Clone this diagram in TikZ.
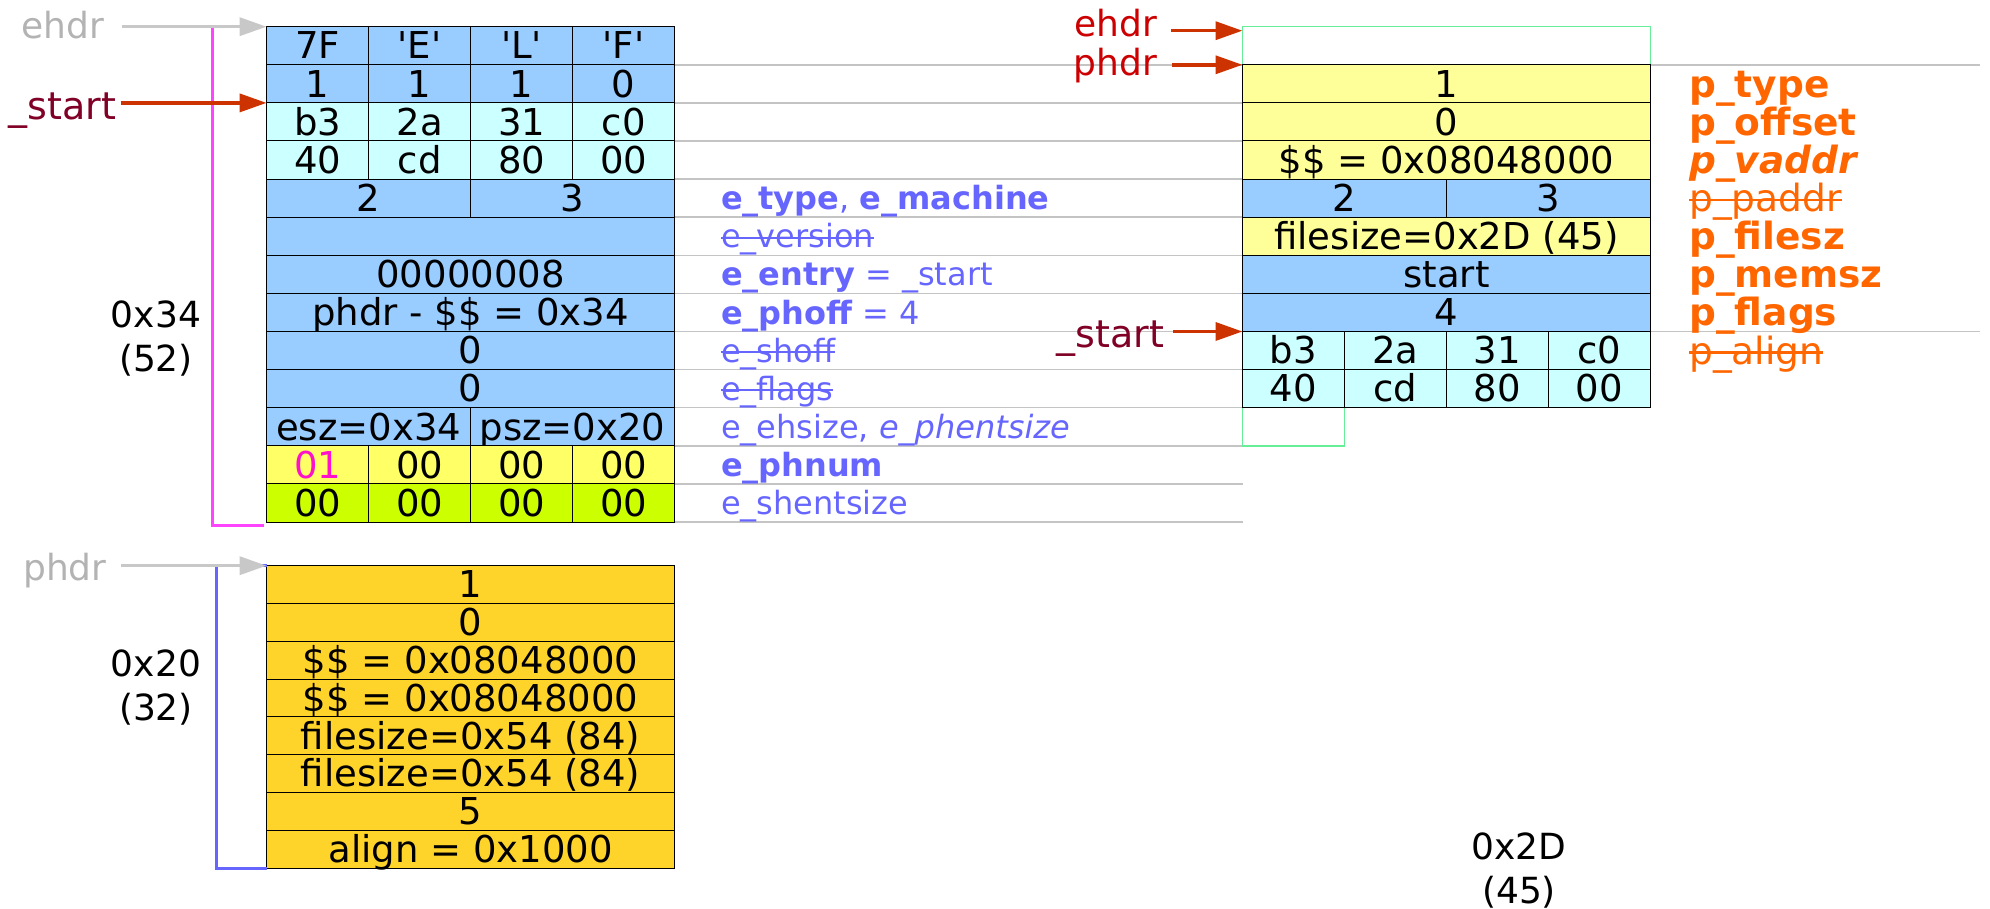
\documentclass[tikz,border=0pt]{standalone}
\usepackage{fontspec}
\setmainfont{DejaVu Sans}
\usetikzlibrary{arrows.meta,backgrounds,positioning}

\definecolor{hdrblue}{HTML}{99CCFF}
\definecolor{codecyan}{HTML}{CCFFFF}
\definecolor{phnumyel}{HTML}{FFFF66}
\definecolor{shentgrn}{HTML}{CCFF00}
\definecolor{phdryel}{HTML}{FFFF99}
\definecolor{phgold}{HTML}{FFD42A}
\definecolor{fieldblue}{HTML}{6666FF}
\definecolor{fieldorange}{HTML}{FF6600}
\definecolor{symred}{HTML}{800026}
\definecolor{ptrred}{HTML}{CC0000}
\definecolor{arrowred}{HTML}{CC3300}
\definecolor{ghost}{HTML}{B3B3B3}
\definecolor{ghostarrow}{HTML}{C8C8C8}
\definecolor{guidegray}{HTML}{C4C4C4}
\definecolor{boxgreen}{HTML}{66EE99}
\definecolor{bracketpink}{HTML}{FF44FF}
\definecolor{countpink}{HTML}{FF11CC}

\newcommand\cellfont{\fontsize{37}{42}\selectfont}
\newsavebox\strikebox
\newcommand\struck[1]{\sbox\strikebox{#1}\rlap{\usebox\strikebox}\rule[0.28em]{\wd\strikebox}{0.065em}}

\tikzset{
  cell/.style={draw=black, line width=1pt, minimum height=38.1pt, inner sep=0pt,
    outer sep=0pt, anchor=north west, font=\cellfont, text height=26.5pt, text depth=0pt},
  quarter/.style={cell, minimum width=102pt},
  half/.style={cell, minimum width=204pt},
  full/.style={cell, minimum width=408pt},
  phrow/.style={full, fill=phgold, minimum height=37.8pt},
  outline/.style={draw=boxgreen, line width=1.5pt, minimum height=38.1pt, inner sep=0pt,
    outer sep=0pt, anchor=north west},
  guide/.style={draw=guidegray, line width=1.5pt},
  ptr/.style={-{Triangle[length=27pt,width=18pt]}, line width=3.5pt, draw=arrowred},
  ghostptr/.style={ptr, draw=ghostarrow},
  ptrlabel/.style={anchor=base east, inner sep=0pt, outer sep=0pt},
  elabel/.style={anchor=west, inner sep=0pt, outer sep=0pt, text=fieldblue,
    font=\fontsize{32}{36}\selectfont, text height=23.3pt, text depth=0pt},
  plabel/.style={anchor=west, inner sep=0pt, outer sep=0pt, text=fieldorange,
    font=\fontsize{37.5}{42}\selectfont, text height=27pt, text depth=0pt},
  sizelabel/.style={align=center, inner sep=0pt, font=\fontsize{36}{44}\selectfont},
  pinkbracket/.style={draw=bracketpink, line width=3pt},
  bluebracket/.style={draw=fieldblue, line width=3pt},
}

% one row of four byte cells: name, x, y, fill, four texts
\newcommand\quadrow[8]{%
  \node[quarter, fill=#4] (#1a) at (#2,#3) {#5};
  \node[quarter, fill=#4, right=0pt of #1a] (#1b) {#6};
  \node[quarter, fill=#4, right=0pt of #1b] (#1c) {#7};
  \node[quarter, fill=#4, right=0pt of #1c] (#1d) {#8};}

\begin{document}
\begin{tikzpicture}[x=1pt, y=-1pt]
\useasboundingbox (0,0) rectangle (1990,909);
\coordinate (farR) at (1980,0);

% ---- ELF header (left) ----
\quadrow{h1}{266.6}{26.7}{hdrblue}{7F}{\textquotesingle E\textquotesingle}{\textquotesingle L\textquotesingle}{\textquotesingle F\textquotesingle}
\quadrow{h2}{266.6}{64.8}{hdrblue}{1}{1}{1}{0}
\quadrow{h3}{266.6}{102.9}{codecyan}{b3}{2a}{31}{c0}
\quadrow{h4}{266.6}{141.0}{codecyan}{40}{cd}{80}{00}
\node[half, fill=hdrblue] (h5a) at (266.6,179.1) {2};
\node[half, fill=hdrblue, right=0pt of h5a] (h5b) {3};
\node[full, fill=hdrblue] (h6) at (266.6,217.2) {};
\node[full, fill=hdrblue] (h7) at (266.6,255.3) {00000008};
\node[full, fill=hdrblue] (h8) at (266.6,293.4) {phdr - \$\$ = 0x34};
\node[full, fill=hdrblue] (h9) at (266.6,331.5) {0};
\node[full, fill=hdrblue] (h10) at (266.6,369.6) {0};
\node[half, fill=hdrblue] (h11a) at (266.6,407.7) {esz=0x34};
\node[half, fill=hdrblue, right=0pt of h11a] (h11b) {psz=0x20};
\quadrow{h12}{266.6}{445.8}{phnumyel}{\textcolor{countpink}{01}}{00}{00}{00}
\quadrow{h13}{266.6}{483.9}{shentgrn}{00}{00}{00}{00}

% ---- program header (bottom left) ----
\node[phrow] (q1) at (266.6,565.7) {1};
\node[phrow] (q2) at (266.6,603.5) {0};
\node[phrow] (q3) at (266.6,641.3) {\$\$ = 0x08048000};
\node[phrow] (q4) at (266.6,679.1) {\$\$ = 0x08048000};
\node[phrow] (q5) at (266.6,716.9) {filesize=0x54 (84)};
\node[phrow] (q6) at (266.6,754.7) {filesize=0x54 (84)};
\node[phrow] (q7) at (266.6,792.5) {5};
\node[phrow] (q8) at (266.6,830.3) {align = 0x1000};

% ---- overlapped layout (right) ----
\node[outline, minimum width=408pt] (gtop) at (1242.5,26.7) {};
\node[outline, minimum width=102pt] (gbot) at (1242.5,407.7) {};
\node[full, fill=phdryel] (p1) at (1242.5,64.8) {1};
\node[full, fill=phdryel] (p2) at (1242.5,102.9) {0};
\node[full, fill=phdryel] (p3) at (1242.5,141.0) {\$\$ = 0x08048000};
\node[half, fill=hdrblue] (p4a) at (1242.5,179.1) {2};
\node[half, fill=hdrblue, right=0pt of p4a] (p4b) {3};
\node[full, fill=phdryel] (p5) at (1242.5,217.2) {filesize=0x2D (45)};
\node[full, fill=hdrblue] (p6) at (1242.5,255.3) {start};
\node[full, fill=hdrblue] (p7) at (1242.5,293.4) {4};
\quadrow{p8}{1242.5}{331.5}{codecyan}{b3}{2a}{31}{c0}
\quadrow{p9}{1242.5}{369.6}{codecyan}{40}{cd}{80}{00}

% guide lines between the two layouts
\begin{scope}[on background layer]
  \foreach \n in {h2d,h3d,h4d,h5b,h6,h7,h9,h10,h11b,h12d,h13d}
    \draw[guide] (\n.south east) -- (\n.south east -| p1.west);
  \foreach \n in {h1d,h8}
    \draw[guide] (\n.south east) -- (\n.south east -| farR);
\end{scope}

% field names of the ELF header
\node[elabel] (eType) at ([xshift=46.4pt]h5b.east) {\textbf{e\_type}, \textbf{e\_machine}};
\node[elabel] (eVersion) at ([xshift=46.4pt]h6.east) {\struck{e\_version}};
\node[elabel] (eEntry) at ([xshift=46.4pt]h7.east) {\textbf{e\_entry} = \_start};
\node[elabel] (ePhoff) at ([xshift=46.4pt]h8.east) {\textbf{e\_phoff} = 4};
\node[elabel] (eShoff) at ([xshift=46.4pt]h9.east) {\struck{e\_shoff}};
\node[elabel] (eFlags) at ([xshift=46.4pt]h10.east) {\struck{e\_flags}};
\node[elabel] (eEhsize) at ([xshift=46.4pt]h11b.east) {e\_ehsize, \textit{e\_phentsize}};
\node[elabel] (ePhnum) at ([xshift=46.4pt]h12d.east) {\textbf{e\_phnum}};
\node[elabel] (eShent) at ([xshift=46.4pt]h13d.east) {e\_shentsize};

% field names of the program header
\node[plabel] (pType) at ([xshift=38.8pt]p1.east) {\textbf{p\_type}};
\node[plabel] (pOffset) at ([xshift=38.8pt]p2.east) {\textbf{p\_offset}};
\node[plabel] (pVaddr) at ([xshift=38.8pt]p3.east) {\textbf{\textit{p\_vaddr}}};
\node[plabel] (pPaddr) at ([xshift=38.8pt]p4b.east) {\struck{p\_paddr}};
\node[plabel] (pFilesz) at ([xshift=38.8pt]p5.east) {\textbf{p\_filesz}};
\node[plabel] (pMemsz) at ([xshift=38.8pt]p6.east) {\textbf{p\_memsz}};
\node[plabel] (pFlags) at ([xshift=38.8pt]p7.east) {\textbf{p\_flags}};
\node[plabel] (pAlign) at ([xshift=38.8pt]p8d.east) {\struck{p\_align}};

% size brackets and sizes
\draw[pinkbracket] ([shift={(-3pt,-3pt)}]h13a.south west) -| ([xshift=-54pt]h1a.north west) -- ++(36pt,0pt);
\draw[bluebracket] (q8.south west) -| ([xshift=-50pt]q1.north west) -- (q1.north west);
\node[sizelabel] (ehSize) at (156,338.5) {0x34\\(52)};
\node[sizelabel] (phSize) at (156,688) {0x20\\(32)};
\node[sizelabel] (fileSize) at (1519,870.9) {0x2D\\(45)};

% pointer labels and arrows
\node[ptrlabel, text=ghost, font=\fontsize{36}{40}\selectfont] (ehdrL) at (104,38.3) {ehdr};
\node[ptrlabel, text=symred, font=\fontsize{38}{42}\selectfont] (startL) at (116.5,120) {\_start};
\node[ptrlabel, text=ghost, font=\fontsize{36}{40}\selectfont] (phdrL) at (106.5,580) {phdr};
\node[ptrlabel, text=ptrred, font=\fontsize{36}{40}\selectfont] (ehdrR) at (1157,36.5) {ehdr};
\node[ptrlabel, text=ptrred, font=\fontsize{36}{40}\selectfont] (phdrR) at (1157,75.3) {phdr};
\node[ptrlabel, text=symred, font=\fontsize{38}{42}\selectfont] (startR) at (1164,348) {\_start};

\draw[ghostptr, shorten <=18pt] (ehdrL.east |- h1a.north west) -- (h1a.north west);
\draw[ptr, shorten <=4pt] (startL.east |- h3a.north west) -- (h3a.north west);
\draw[ghostptr, shorten <=14pt] (phdrL.east |- q1.north west) -- (q1.north west);
\draw[ptr, shorten <=14pt] (ehdrR.east |- gtop.north west) ++(0pt,-4pt) -- ([yshift=-4pt]gtop.north west);
\draw[ptr, shorten <=15pt] (phdrR.east |- p1.north west) -- (p1.north west);
\draw[ptr, shorten <=9pt] (startR.east |- p8a.north west) -- (p8a.north west);
\end{tikzpicture}
\end{document}
